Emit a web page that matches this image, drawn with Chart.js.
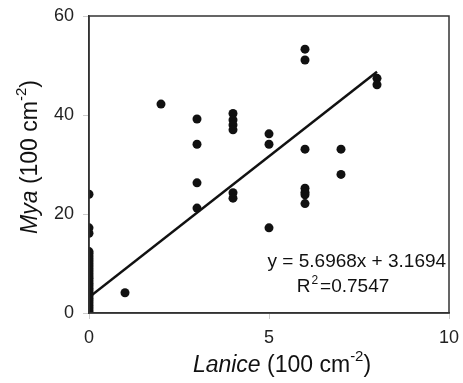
<!DOCTYPE html>
<html>
<head>
<meta charset="utf-8">
<script src="https://cdn.jsdelivr.net/npm/chart.js@4/dist/chart.umd.min.js"></script>
<style>
html,body{margin:0;padding:0;background:#fff;}
#wrap{width:463px;height:383px;}
</style>
</head>
<body>
<div id="wrap"><canvas id="c" width="463" height="383"></canvas></div>
<script>
// Lanice density (x) and Mya density (y), per 100 cm^-2
const laniceX = [
  0,0,0,0,0,0,0,0,0,0,0,0,0,0,0,0,0,0,0,0,0,0,0,0,0,0,0,0,0,
  1, 2,
  3,3,3,3,
  4,4,4,4,4,4,
  5,5,5,
  6,6,6,6,6,6,6,
  7,7,
  8,8
];
const myaY = [
  24,17.2,16.1,12.4,12,11.5,11,10.5,10,9.5,9,8.5,8,7.5,7,6.5,6,5.5,5,4.5,4,3.5,3,2.5,2,1.5,1,0.5,0,
  4.1, 42.2,
  39.2,34.1,26.3,21.2,
  40.3,39,38,37,24.3,23.2,
  36.2,34.1,17.2,
  53.3,51.1,33.1,25.2,24.4,23.9,22.1,
  33.1,28,
  47.4,46.1
];
const xTicks = [0, 5, 10];
const yTicks = [0, 20, 40, 60];
const slope = 5.6968;
const intercept = 3.1694;
const fitRange = [0, 8];
const equationLabel = "y = 5.6968x + 3.1694";
const r2Label = "=0.7547";

const points = laniceX.map((x, i) => ({x: x, y: myaY[i]}));
const fitLine = fitRange.map(x => ({x: x, y: slope * x + intercept}));

const FONT = '"Liberation Sans", Arial, sans-serif';

const decorPlugin = {
  id: 'decor',
  afterDraw(chart) {
    const ctx = chart.ctx;
    const a = chart.chartArea;
    const xs = chart.scales.x, ys = chart.scales.y;
    ctx.save();
    ctx.strokeStyle = '#333';
    ctx.lineWidth = 1.5;
    ctx.strokeRect(a.left, a.top, a.right - a.left, a.bottom - a.top);

    ctx.fillStyle = '#111';
    ctx.textBaseline = 'alphabetic';
    ctx.font = '19px ' + FONT;
    ctx.textAlign = 'center';
    ctx.fillText(equationLabel, xs.getPixelForValue(7.44), ys.getPixelForValue(9.3));
    const rx = xs.getPixelForValue(5.77);
    const ry = ys.getPixelForValue(4.2);
    ctx.textAlign = 'left';
    ctx.font = '19px ' + FONT;
    ctx.fillText('R', rx, ry);
    let w = ctx.measureText('R').width;
    ctx.font = '12px ' + FONT;
    ctx.fillText('2', rx + w + 1, ry - 8);
    w += ctx.measureText('2').width + 3;
    ctx.font = '19px ' + FONT;
    ctx.fillText(r2Label, rx + w, ry);

    function drawTitle(italicPart) {
      const parts = [
        {t: italicPart, f: 'italic 23px ' + FONT, dy: 0},
        {t: ' (100 cm', f: '23px ' + FONT, dy: 0},
        {t: '-2', f: '15px ' + FONT, dy: -9},
        {t: ')', f: '23px ' + FONT, dy: 0}
      ];
      let total = 0;
      parts.forEach(p => { ctx.font = p.f; p.w = ctx.measureText(p.t).width; total += p.w; });
      let x = -total / 2;
      parts.forEach(p => { ctx.font = p.f; ctx.fillText(p.t, x, p.dy); x += p.w; });
    }
    ctx.textAlign = 'left';
    ctx.textBaseline = 'middle';
    ctx.save();
    ctx.translate(282, 366);
    drawTitle('Lanice');
    ctx.restore();
    ctx.save();
    ctx.translate(31, 157);
    ctx.rotate(-Math.PI / 2);
    drawTitle('Mya');
    ctx.restore();
    ctx.restore();
  }
};

new Chart(document.getElementById('c'), {
  type: 'scatter',
  data: {
    datasets: [
      {
        type: 'line',
        data: fitLine,
        borderColor: '#111',
        borderWidth: 2.5,
        pointRadius: 0,
        fill: false,
        order: 1
      },
      {
        data: points,
        backgroundColor: '#111',
        borderColor: '#111',
        pointRadius: 4.5,
        pointBorderWidth: 0,
        order: 2
      }
    ]
  },
  options: {
    responsive: false,
    animation: false,
    devicePixelRatio: 1,
    layout: {padding: {top: 16, right: 14, bottom: 0, left: 0}},
    plugins: {legend: {display: false}, tooltip: {enabled: false}},
    scales: {
      x: {
        type: 'linear',
        min: 0, max: 10,
        afterBuildTicks(s) { s.ticks = xTicks.map(v => ({value: v})); },
        afterFit(s) { s.height = 70; s.paddingLeft = 0; s.paddingRight = 0; },
        border: {color: '#333', width: 1.5},
        grid: {drawOnChartArea: false, drawTicks: true, tickLength: 6, color: '#ccc'},
        ticks: {font: {family: FONT, size: 18}, color: '#222', padding: 8, maxRotation: 0}
      },
      y: {
        type: 'linear',
        min: 0, max: 60,
        afterBuildTicks(s) { s.ticks = yTicks.map(v => ({value: v})); },
        afterFit(s) { s.width = 89; s.paddingTop = 0; s.paddingBottom = 0; },
        border: {color: '#333', width: 1.5},
        grid: {drawOnChartArea: false, drawTicks: true, tickLength: 6, color: '#ccc'},
        ticks: {font: {family: FONT, size: 18}, color: '#222', padding: 9}
      }
    }
  },
  plugins: [decorPlugin]
});
</script>
</body>
</html>
